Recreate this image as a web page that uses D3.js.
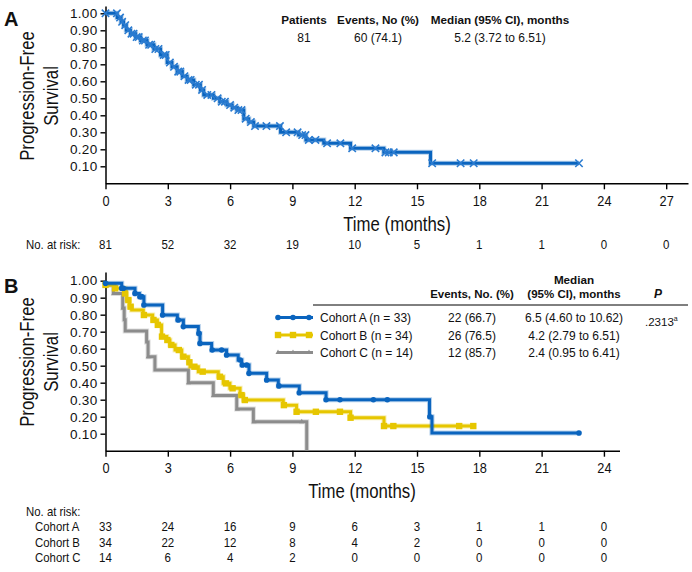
<!DOCTYPE html>
<html><head><meta charset="utf-8">
<script src="https://cdn.jsdelivr.net/npm/d3@7"></script>
<style>
body{margin:0;background:#fff;}
svg{display:block;}
</style></head>
<body>
<svg id="c" width="692" height="572"></svg>
<script>
// ---------- DATA ----------
const xTicksA = [0,3,6,9,12,15,18,21,24,27];
const xTicksB = [0,3,6,9,12,15,18,21,24];
const yTicks = [0.1,0.2,0.3,0.4,0.5,0.6,0.7,0.8,0.9,1.0];

// Panel A: overall PFS (step times, survival after step)
const allTimes = [0,0.56,0.75,0.87,1.0,1.2,1.45,1.69,2.0,2.33,2.65,2.97,3.2,3.45,3.7,3.93,4.25,4.57,4.73,5.2,5.5,5.85,6.1,6.33,6.66,6.9,7.14,8.43,9.3,9.65,10.51,11.8,13.4,15.65];
const allSurv  = [1.0,0.975,0.95,0.93,0.90,0.88,0.86,0.84,0.815,0.79,0.755,0.71,0.685,0.657,0.63,0.608,0.58,0.549,0.52,0.50,0.48,0.46,0.445,0.431,0.38,0.36,0.337,0.30,0.284,0.255,0.235,0.206,0.182,0.118];
const allEnd = 22.8;
const allCensor = [0,0.55,0.7,0.8,0.95,1.1,1.25,1.35,1.5,1.6,1.8,1.9,2.1,2.2,2.4,2.55,2.8,2.9,3.1,3.3,3.5,3.6,3.8,4.0,4.1,4.35,4.5,4.65,4.9,5.1,5.4,5.6,5.75,6.0,6.2,6.4,6.55,6.75,7.0,7.2,7.75,8.4,8.7,9.25,9.47,9.63,9.79,10.11,10.67,11.31,11.88,13.0,13.48,13.64,13.88,15.73,17.1,17.73,22.8];
const riskA = [81,52,32,19,10,5,1,1,0,0];

// Panel B: cohorts
const cohortATimes = [0,0.78,1.42,1.63,1.85,2.75,3.46,3.75,4.47,4.55,5.11,5.83,6.39,6.56,6.91,7.76,8.32,9.33,10.62,15.6,15.72];
const cohortASurv  = [0.985,0.955,0.925,0.906,0.857,0.798,0.769,0.73,0.69,0.631,0.592,0.563,0.533,0.504,0.455,0.416,0.381,0.341,0.300,0.2,0.104];
const cohortAEnd = 22.8;
const cohortAMarks = [0,0.78,0.86,1.42,1.66,1.74,1.85,2.75,3.5,3.75,4.5,4.55,5.14,5.59,5.83,6.48,6.59,6.8,6.91,7.76,8.35,9.33,10.62,11.29,12.9,13.57,15.62,22.8];

const cohortBTimes = [0,0.46,0.94,1.02,1.15,1.26,1.82,2.27,2.5,2.7,2.95,3.1,3.35,3.67,3.99,4.07,4.47,5.43,5.67,5.99,6.48,6.64,8.56,9.2,11.8,13.41];
const cohortBSurv  = [0.975,0.955,0.925,0.886,0.847,0.827,0.798,0.769,0.74,0.671,0.651,0.622,0.592,0.553,0.52,0.494,0.465,0.435,0.396,0.367,0.327,0.298,0.268,0.229,0.194,0.145];
const cohortBEnd = 17.71;
const cohortBMarks = [0,0.46,0.94,1.1,1.21,1.85,2.31,2.52,2.72,2.98,3.17,3.53,3.75,4.04,4.28,4.68,5.51,5.8,6.12,6.55,6.71,8.59,9.2,10.13,11.29,11.8,13.41,13.86,17.03,17.71];

const cohortCTimes = [0,0.38,0.83,0.9,0.95,1.98,2.05,2.38,3.99,5.19,6.32,7.12,9.69];
const cohortCSurv  = [0.975,0.925,0.84,0.77,0.704,0.64,0.553,0.475,0.40,0.325,0.245,0.17,0.0];
const cohortCEnd = 9.69;
const cohortCMarks = [0,0.4,0.85,2.06,4.0,5.2,6.35,7.15,9.45];

const riskCohortA = [33,24,16,9,6,3,1,1,0];
const riskCohortB = [34,22,12,8,4,2,0,0,0];
const riskCohortC = [14,6,4,2,0,0,0,0,0];

const cohortNames = ["Cohort A (n = 33)","Cohort B (n = 34)","Cohort C (n = 14)"];
const cohortEvents = ["22 (66.7)","26 (76.5)","12 (85.7)"];
const cohortMedians = ["6.5 (4.60 to 10.62)","4.2 (2.79 to 6.51)","2.4 (0.95 to 6.41)"];
const riskLabels = ["Cohort A","Cohort B","Cohort C"];

// ---------- STYLE ----------
const BLUE = "#0a64be", YELLOW = "#e6c600", GREY = "#8c8c8c";
const F = '"Liberation Sans",Arial,"Helvetica",sans-serif';
const INK = "#111";

const svg = d3.select("#c");
svg.append("rect").attr("width",692).attr("height",572).attr("fill","#fff");

// text helper: horizontally condensed text via scale
function txt(parent, x, y, str, size, o){
  o = o||{};
  const sx = o.sx||1;
  const t = parent.append("text")
    .attr("transform",`translate(${x},${y})${o.rot?" rotate("+o.rot+")":""} scale(${sx},1)`)
    .attr("text-anchor",o.anchor||"start")
    .attr("font-family",F).attr("font-size",size).attr("fill",INK)
    .attr("font-weight",o.bold?"bold":"normal")
    .attr("font-style",o.italic?"italic":"normal")
    .text(str);
  return t;
}

function survAt(times, surv, t){ const i = d3.bisectRight(times, t) - 1; return surv[Math.max(0,i)]; }

function drawAxes(g, x, y, xt){
  const xa = g.append("g").attr("transform",`translate(0,${y(0)})`)
    .call(d3.axisBottom(x).tickValues(xt).tickSize(6).tickPadding(6.5).tickSizeOuter(0).tickFormat(d3.format("d")));
  xa.selectAll("text").attr("font-family",F).attr("font-size",14.5).attr("fill",INK).attr("transform","scale(0.88,1)");
  const ya = g.append("g").attr("transform",`translate(${x(0)},0)`)
    .call(d3.axisLeft(y).tickValues(yTicks).tickSize(5).tickPadding(3).tickSizeOuter(0).tickFormat(d3.format(".2f")));
  ya.selectAll("text").attr("font-family",F).attr("font-size",13.5).attr("fill",INK).attr("letter-spacing",0.3);
  [xa,ya].forEach(a=>{a.selectAll("path,line").attr("stroke","#000").attr("stroke-width",1.4);a.select(".domain").attr("stroke-width",1.5);});
}

function stepLine(x,y,times,surv,end){
  const pts = times.map((t,i)=>[t,surv[i]]);
  pts.push([end, surv[surv.length-1]]);
  return d3.line().x(d=>x(d[0])).y(d=>y(d[1])).curve(d3.curveStepAfter)(pts);
}

function drawCurve(g,x,y,times,surv,end,color,w){
  const d = stepLine(x,y,times,surv,end);
  g.append("path").attr("d",d).attr("fill","none").attr("stroke",color).attr("stroke-opacity",0.3).attr("stroke-width",w+2);
  g.append("path").attr("d",d).attr("fill","none").attr("stroke",color).attr("stroke-width",w);
}

function yTitle(cx, cy){
  txt(svg, cx-6, cy, "Progression-Free", 21, {rot:-90, sx:0.8, anchor:"middle"});
  txt(svg, cx+18, cy, "Survival", 21, {rot:-90, sx:0.8, anchor:"middle"});
}

// ================= PANEL A =================
const xA = d3.scaleLinear().domain([0,28.05]).range([105.5,688]);
const yA = d3.scaleLinear().domain([0,1.043]).range([183.3,6]);
const gA = svg.append("g");
drawAxes(gA,xA,yA,xTicksA);
drawCurve(gA,xA,yA,allTimes,allSurv,allEnd,BLUE,3);
gA.append("g").selectAll("path").data(allCensor).join("path")
  .attr("transform",t=>`translate(${xA(t)},${yA(survAt(allTimes,allSurv,t))})`)
  .attr("d","M-3.7,-3.7L3.7,3.7M-3.7,3.7L3.7,-3.7")
  .attr("stroke","#2a7bd0").attr("stroke-width",1.6).attr("fill","none");

txt(svg, 4, 26, "A", 20, {bold:true});
yTitle(40,96);
txt(svg, 397, 231, "Time (months)", 20, {sx:0.84, anchor:"middle"});

// header table A
const hdrA = [["Patients","81",304],["Events, No (%)","60 (74.1)",378],["Median (95% CI), months","5.2 (3.72 to 6.51)",500]];
hdrA.forEach(h=>{
  txt(svg, h[2], 24, h[0], 11.7, {bold:true, anchor:"middle"});
  txt(svg, h[2], 42, h[1], 12, {anchor:"middle"});
});

// risk A
txt(svg, 26, 249, "No. at risk:", 12, {sx:0.95});
riskA.forEach((d,i)=>txt(svg, xA(xTicksA[i]), 249, d, 12.5, {anchor:"middle", sx:0.92}));

// ================= PANEL B =================
const xB = d3.scaleLinear().domain([0,24.75]).range([105.5,619.5]);
const yB = d3.scaleLinear().domain([0,1.051]).range([450.7,272]);
const gB = svg.append("g");
drawAxes(gB,xB,yB,xTicksB);

const cohorts = [
  {times:cohortCTimes,surv:cohortCSurv,end:cohortCEnd,marks:cohortCMarks,color:GREY,shape:"tri"},
  {times:cohortBTimes,surv:cohortBSurv,end:cohortBEnd,marks:cohortBMarks,color:YELLOW,shape:"sq"},
  {times:cohortATimes,surv:cohortASurv,end:cohortAEnd,marks:cohortAMarks,color:BLUE,shape:"dot"}
];
function marker(sel,shape,color){
  if(shape==="dot") sel.append("circle").attr("r",2.8).attr("fill",color);
  else if(shape==="sq") sel.append("rect").attr("x",-3.2).attr("y",-3.2).attr("width",6.4).attr("height",6.4).attr("fill",color);
  else sel.append("path").attr("d","M-2.5,1.5L0,-3L2.5,1.5Z").attr("fill",color);
}
cohorts.forEach(c=>{
  drawCurve(gB,xB,yB,c.times,c.surv,c.end,c.color,3);
  const m = gB.append("g").selectAll("g").data(c.marks).join("g")
    .attr("transform",t=>`translate(${xB(t)},${yB(survAt(c.times,c.surv,t))})`);
  marker(m,c.shape,c.color);
});

txt(svg, 4, 293, "B", 20, {bold:true});
yTitle(40,362);
txt(svg, 362, 498, "Time (months)", 20, {sx:0.84, anchor:"middle"});

// legend table B
txt(svg, 574, 284, "Median", 11.7, {bold:true, anchor:"middle"});
txt(svg, 472, 298, "Events, No. (%)", 11.5, {bold:true, anchor:"middle"});
txt(svg, 574, 298, "(95% CI), months", 11.5, {bold:true, anchor:"middle"});
txt(svg, 658, 298, "P", 12, {bold:true, italic:true, anchor:"middle"});
svg.append("line").attr("x1",313).attr("x2",688).attr("y1",305).attr("y2",305).attr("stroke","#000").attr("stroke-width",1);
const legColors=[BLUE,YELLOW,GREY], legShapes=["dot","sq","tri"], legY=[317.5,335,352.5];
legY.forEach((ly,i)=>{
  svg.append("line").attr("x1",277).attr("x2",313).attr("y1",ly).attr("y2",ly).attr("stroke",legColors[i]).attr("stroke-width",3);
  const m = svg.append("g").selectAll("g").data([278,293,309]).join("g").attr("transform",d=>`translate(${d},${ly})`);
  marker(m,legShapes[i],legColors[i]);
  txt(svg, 320, ly+4.5, cohortNames[i], 12);
  txt(svg, 472, ly+4.5, cohortEvents[i], 12, {anchor:"middle"});
  txt(svg, 574, ly+4.5, cohortMedians[i], 12, {anchor:"middle"});
});
const pt = txt(svg, 645, 326, ".2313", 11.5);
pt.append("tspan").attr("dy",-5).attr("font-size",7).text("a");

// risk B
txt(svg, 26, 516, "No. at risk:", 12, {sx:0.95});
const risks=[riskCohortA,riskCohortB,riskCohortC], rY=[531,547,562];
risks.forEach((r,k)=>{
  txt(svg, 35, rY[k], riskLabels[k], 12, {sx:0.95});
  r.forEach((d,i)=>txt(svg, xB(xTicksB[i]), rY[k], d, 12.5, {anchor:"middle", sx:0.92}));
});
</script>
</body></html>
